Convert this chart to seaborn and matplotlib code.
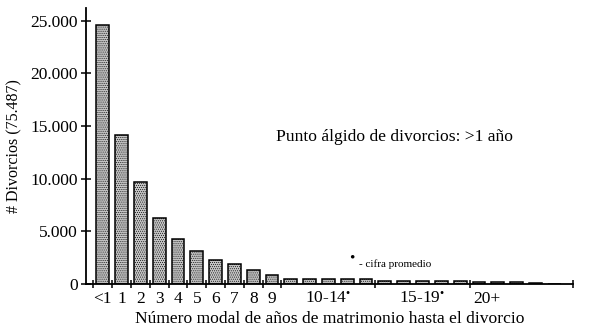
import matplotlib
matplotlib.use("Agg")
import matplotlib.pyplot as plt
import seaborn as sns
import pandas as pd

# ---- data ----
years = ["<1", "1", "2", "3", "4", "5", "6", "7", "8", "9",
         "10", "11", "12", "13", "14",
         "15", "16", "17", "18", "19",
         "20", "21", "22", "23", "24"]
single_years = [24600, 14100, 9700, 6300, 4300, 3100, 2300, 1900, 1300, 800]
avg_10_14 = [500, 500, 500, 500, 500]
avg_15_19 = [280, 280, 280, 280, 280]
over_20 = [170, 200, 140, 80, 40]
divorces = single_years + avg_10_14 + avg_15_19 + over_20

tick_labels = ["<1", "1", "2", "3", "4", "5", "6", "7", "8", "9",
               "10-14$^{\u2022}$", "15-19$^{\u2022}$", "20+"]
tick_pos = [0, 1, 2, 3, 4, 5, 6, 7, 8, 9, 12, 17, 20.4]
boundaries = [-0.5, 0.5, 1.5, 2.5, 3.5, 4.5, 5.5, 6.5, 7.5, 8.5, 9.5, 14.5, 19.5, 25]
y_ticks = [0, 5000, 10000, 15000, 20000, 25000]
y_tick_labels = ["0", "5.000", "10.000", "15.000", "20.000", "25.000"]

df = pd.DataFrame({"year": years, "n": divorces})

sns.set_theme(style="white")
plt.rcParams["font.family"] = ["Liberation Serif", "DejaVu Serif"]
plt.rcParams["mathtext.fontset"] = "custom"
plt.rcParams["mathtext.rm"] = "Liberation Serif"
plt.rcParams["mathtext.it"] = "Liberation Serif"
plt.rcParams["mathtext.default"] = "rm"
plt.rcParams["hatch.color"] = "#555555"
plt.rcParams["hatch.linewidth"] = 0.4

fig = plt.figure(figsize=(6.0, 3.29), dpi=100)
ax = fig.add_axes([0.143, 0.137, 0.812, 0.839])

sns.barplot(data=df, x="year", y="n", order=years, color="#c4c4c4",
            width=0.68, edgecolor="black", linewidth=1.1, saturation=1,
            ax=ax)
for p in ax.patches:
    p.set_hatch("........")

ax.set_xlim(-0.9, 25)
ax.set_ylim(0, 26200)

sns.despine(ax=ax)
for s in ("left", "bottom"):
    ax.spines[s].set_linewidth(1.3)
    ax.spines[s].set_color("black")

ax.set_xticks(tick_pos)
ax.set_xticklabels(tick_labels, fontsize=12.5)
ax.set_xticks(boundaries, minor=True)
ax.tick_params(axis="x", which="major", length=0, pad=5, colors="black")
ax.tick_params(axis="x", which="minor", direction="inout", length=6,
               width=1.1, color="black", bottom=True)

ax.set_yticks(y_ticks)
ax.set_yticklabels(y_tick_labels, fontsize=12.5)
ax.tick_params(axis="y", which="major", direction="inout", length=7,
               width=1.1, color="black", left=True, pad=2, labelcolor="black")

ax.set_xlabel("Número modal de años de matrimonio hasta el divorcio",
              fontsize=12.6, color="black", labelpad=3)
ax.set_ylabel("# Divorcios (75.487)", fontsize=11.5, color="black", labelpad=6)

ax.text(9.2, 13970, "Punto álgido de divorcios: >1 año", fontsize=12.6,
        va="center", ha="left", color="black")
ax.text(13.25, 2500, "\u2022", fontsize=11, va="center", ha="center", color="black")
ax.text(13.6, 1850, "- cifra promedio", fontsize=8, va="center", ha="left",
        color="black")

fig.savefig("out.png", dpi=100)
